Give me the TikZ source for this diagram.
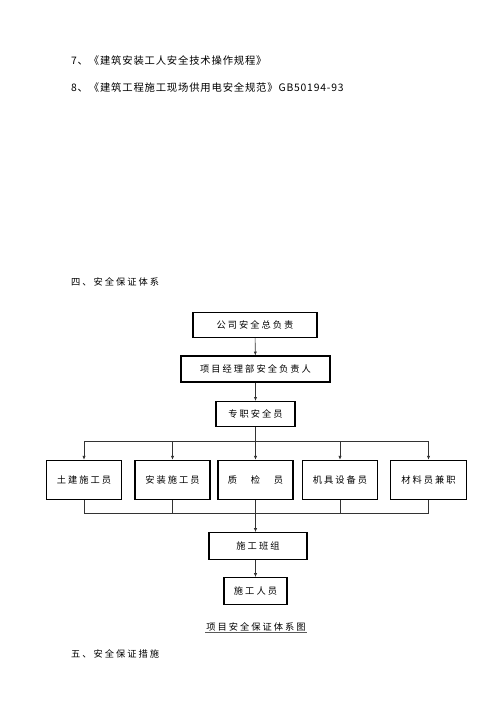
\documentclass[tikz,border=0pt]{standalone}
\usepackage{fontspec}
\setmainfont{Noto Sans CJK SC}
\newfontfamily\cjkref[LetterSpace=8]{Noto Sans CJK SC}
\newfontfamily\cjkwide[LetterSpace=22]{Noto Sans CJK SC}
\usetikzlibrary{arrows.meta}

\begin{document}
\begin{tikzpicture}[x=1.1906pt, y=-1.1906pt,
		reftext/.style={anchor=west, inner sep=0pt, font=\cjkref\fontsize{12.3}{14}\selectfont},
		heading/.style={inner sep=1pt, font=\cjkwide\fontsize{11}{13}\selectfont},
		box/.style={draw, line width=1.3pt, inner sep=0pt, font=\cjkwide\fontsize{11}{13}\selectfont},
		rowbox/.style={box, minimum width=89.3pt, minimum height=47pt},
		link/.style={draw=black!80, line width=0.7pt},
		arr/.style={link, -{Latex[length=4.5pt, width=3.8pt]}}]
		\useasboundingbox (0, 0) rectangle (500, 707);

		\node[reftext] (ref7) at (71, 61) {7、《建筑安装工人安全技术操作规程》};
		\node[reftext] (ref8) at (71, 88) {8、《建筑工程施工现场供用电安全规范》GB50194-93};

		\node[heading, anchor=west] (sec4) at (70, 282) {四、安全保证体系};

		\node[box, minimum width=147.6pt, minimum height=29.5pt] (zong) at (255, 325) {公司安全总负责};
		\node[box, minimum width=177.4pt, minimum height=31pt] (xmb) at (255.5, 369) {项目经理部安全负责人};
		\node[box, minimum width=94pt, minimum height=29.8pt] (zhuan) at (255.5, 414) {专职安全员};

		\node[rowbox] (tujian) at (84, 480) {土建施工员};
		\node[rowbox] (anzhuang) at (172.5, 480) {安装施工员};
		\node[rowbox] (zhijian) at (255.5, 480) {质\hspace{1.5em}检\hspace{1.5em}员};
		\node[rowbox] (jiju) at (340, 480) {机具设备员};
		\node[rowbox, minimum width=90.5pt] (cailiao) at (428.5, 480) {材料员兼职};

		\node[box, minimum width=116.7pt, minimum height=32pt] (banzu) at (258, 546) {施工班组};
		\node[box, minimum width=75pt, minimum height=32pt] (renyuan) at (255.5, 591) {施工人员};

		\coordinate (busT) at (255, 441);
		\coordinate (busB) at (255, 513);

		\draw[arr] (zong) -- (xmb);
		\draw[arr] (xmb) -- (zhuan);
		\draw[arr] (zhuan) -- (zhijian);
		\draw[link] (tujian.north |- busT) -- (cailiao.north |- busT);
		\draw[arr] (tujian.north |- busT) -- (tujian);
		\draw[arr] (anzhuang.north |- busT) -- (anzhuang);
		\draw[arr] (jiju.north |- busT) -- (jiju);
		\draw[arr] (cailiao.north |- busT) -- (cailiao);

		\draw[link] (tujian) -- (tujian.south |- busB) -| (cailiao);
		\draw[link] (anzhuang) -- (anzhuang.south |- busB);
		\draw[link] (jiju) -- (jiju.south |- busB);
		\draw[arr] (zhijian) -- (zhijian.south |- banzu.north);
		\draw[arr] (renyuan.north |- banzu.south) -- (renyuan);

		\node[heading] (tu) at (256, 627) {项目安全保证体系图};
		\draw[line width=1.2pt, black!65] (tu.south west) -- (tu.south east);

		\node[heading, anchor=west] (sec5) at (70, 654) {五、安全保证措施};
	\end{tikzpicture}
\end{document}
